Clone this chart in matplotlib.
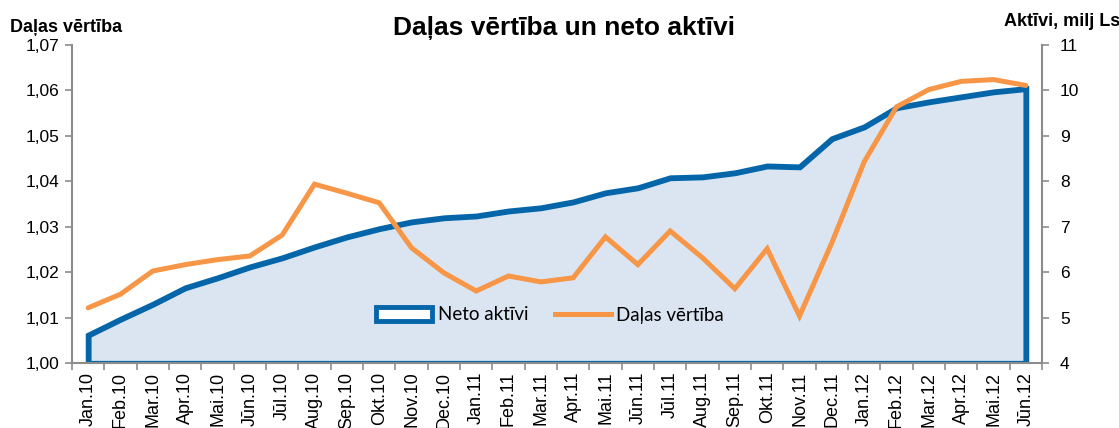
import matplotlib
matplotlib.use("Agg")
import matplotlib.pyplot as plt
from matplotlib.patches import Patch
from matplotlib.lines import Line2D

months = ["Jan.10", "Feb.10", "Mar.10", "Apr.10", "Mai.10", "Jūn.10", "Jūl.10", "Aug.10",
          "Sep.10", "Okt.10", "Nov.10", "Dec.10", "Jan.11", "Feb.11", "Mar.11", "Apr.11",
          "Mai.11", "Jūn.11", "Jūl.11", "Aug.11", "Sep.11", "Okt.11", "Nov.11", "Dec.11",
          "Jan.12", "Feb.12", "Mar.12", "Apr.12", "Mai.12", "Jūn.12"]

neto_aktivi = [4.62, 4.97, 5.30, 5.66, 5.88, 6.12, 6.32, 6.56, 6.78, 6.96,
               7.11, 7.20, 7.24, 7.35, 7.42, 7.55, 7.75, 7.86, 8.08, 8.10,
               8.19, 8.34, 8.32, 8.94, 9.20, 9.62, 9.75, 9.86, 9.97, 10.04]

dalas_vertiba = [1.0122, 1.0152, 1.0203, 1.0217, 1.0228, 1.0236, 1.0282, 1.0394, 1.0374, 1.0353,
                 1.0254, 1.0199, 1.0159, 1.0192, 1.0179, 1.0188, 1.0278, 1.0217, 1.0291, 1.0232,
                 1.0164, 1.0252, 1.0104, 1.0265, 1.0443, 1.0564, 1.0602, 1.0620, 1.0624, 1.0611]

left_ticks = [1.00, 1.01, 1.02, 1.03, 1.04, 1.05, 1.06, 1.07]
left_labels = ["1,00", "1,01", "1,02", "1,03", "1,04", "1,05", "1,06", "1,07"]
right_ticks = [4, 5, 6, 7, 8, 9, 10, 11]

BLUE = "#0465A9"
FILL = "#DBE5F1"
ORANGE = "#F79646"
GRAY = "#8C8C8C"

plt.rcParams["font.family"] = ["Liberation Sans", "DejaVu Sans"]

W, H = 1119, 428
fig = plt.figure(figsize=(W / 100, H / 100), dpi=100)
ax = fig.add_axes([72 / W, 1 - 363.3 / H, (1042 - 72) / W, (363.3 - 45) / H])
ax2 = ax.twinx()

x = list(range(len(months)))

# Area (right axis)
ax2.fill_between(x, right_ticks[0], neto_aktivi, facecolor=FILL, edgecolor=BLUE,
                 linewidth=4.2, joinstyle="miter")
ax2.set_ylim(4, 11)
ax2.set_yticks(right_ticks)
ax2.set_yticklabels([str(t) for t in right_ticks], fontsize=12.5)

# Line (left axis)
ax.plot(x, dalas_vertiba, color=ORANGE, linewidth=3.6, solid_joinstyle="miter",
        solid_capstyle="round")
ax.set_ylim(1.00, 1.07)
ax.set_yticks(left_ticks)
ax.set_yticklabels(left_labels, fontsize=12.5)
ax.set_zorder(ax2.get_zorder() + 1)
ax.patch.set_visible(False)

ax.set_xlim(-0.5, len(months) - 0.5)
ax.set_xticks(x)
ax.set_xticklabels(months, rotation=90, fontsize=13, va="top")
ax.set_xticks([i - 0.5 for i in range(len(months) + 1)], minor=True)
ax.tick_params(axis="x", which="major", length=0, pad=6)
ax.tick_params(axis="x", which="minor", length=5, color=GRAY, width=1.2)
ax.tick_params(axis="y", length=5, color=GRAY, width=1.2, pad=4)
ax2.tick_params(axis="y", length=5, color=GRAY, width=1.2, pad=8)

for a in (ax, ax2):
    a.spines["top"].set_visible(False)
    for s in ("left", "right", "bottom"):
        a.spines[s].set_color(GRAY)
        a.spines[s].set_linewidth(1.5)
ax.spines["right"].set_visible(False)
ax2.spines["left"].set_visible(False)
ax2.spines["bottom"].set_visible(False)

fig.text(564 / W, 1 - 28 / H, "Daļas vērtība un neto aktīvi", ha="center", va="center",
         fontsize=19, fontweight="bold")
fig.text(10 / W, 1 - 27 / H, "Daļas vērtība", ha="left", va="center", fontsize=13,
         fontweight="bold")
fig.text(1120 / W, 1 - 21 / H, "Aktīvi, milj Ls", ha="right", va="center", fontsize=13,
         fontweight="bold")

handles = [Patch(facecolor="white", edgecolor=BLUE, linewidth=3.5),
           Line2D([0], [0], color=ORANGE, linewidth=3.6)]
leg = fig.legend(handles, ["Neto aktīvi", "Daļas vērtība"], loc="center",
                 bbox_to_anchor=(550 / W, 1 - 315 / H), ncol=2, frameon=False,
                 prop={"family": ["Lato", "DejaVu Sans"], "size": 13.5},
                 handlelength=3.0, handleheight=0.75, handletextpad=0.3, columnspacing=1.4)

fig.savefig("out.png", dpi=100)
